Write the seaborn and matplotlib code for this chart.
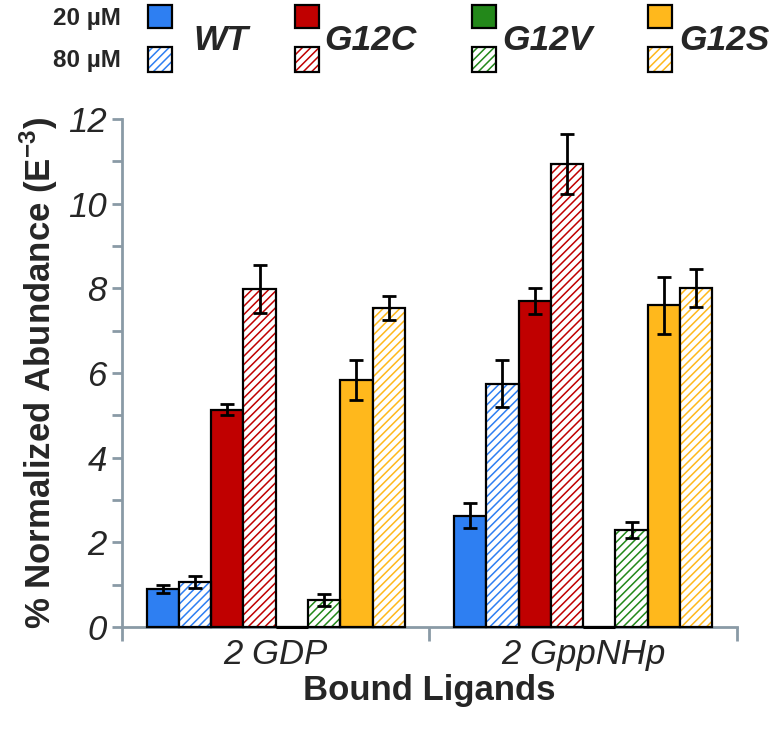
import numpy as np
import pandas as pd
import matplotlib
matplotlib.use("Agg")
import matplotlib.pyplot as plt
from matplotlib import font_manager as fm
from matplotlib.patches import Rectangle
from matplotlib.ticker import MultipleLocator, FixedLocator
import seaborn as sns

# data
ligands = ["2 GDP", "2 GppNHp"]
variants = ["WT", "G12C", "G12V", "G12S"]
concs = ["20 µM", "80 µM"]

wt_20 = [0.90, 2.63]
wt_20_err = [0.10, 0.29]
wt_80 = [1.06, 5.75]
wt_80_err = [0.15, 0.55]
g12c_20 = [5.13, 7.70]
g12c_20_err = [0.13, 0.30]
g12c_80 = [7.98, 10.95]
g12c_80_err = [0.57, 0.71]
g12v_20 = [0.0, 0.0]
g12v_20_err = [0.0, 0.0]
g12v_80 = [0.63, 2.29]
g12v_80_err = [0.14, 0.18]
g12s_20 = [5.83, 7.60]
g12s_20_err = [0.47, 0.67]
g12s_80 = [7.53, 8.00]
g12s_80_err = [0.28, 0.45]

variant_colors = ["#2e7ff2", "#c00000", "#23881a", "#ffb81c"]

vals = {"WT": (wt_20, wt_80), "G12C": (g12c_20, g12c_80),
        "G12V": (g12v_20, g12v_80), "G12S": (g12s_20, g12s_80)}
errs = {"WT": (wt_20_err, wt_80_err), "G12C": (g12c_20_err, g12c_80_err),
        "G12V": (g12v_20_err, g12v_80_err), "G12S": (g12s_20_err, g12s_80_err)}

rows = []
for v in variants:
    for ci, c in enumerate(concs):
        for li, lig in enumerate(ligands):
            rows.append({"ligand": lig, "group": v + " " + c,
                         "abundance": vals[v][ci][li], "err": errs[v][ci][li]})
df = pd.DataFrame(rows)

hue_order = [v + " " + c for v in variants for c in concs]
palette = {v + " " + c: col for v, col in zip(variants, variant_colors) for c in concs}


def has_font(name):
    try:
        fm.findfont(name, fallback_to_default=False)
        return True
    except Exception:
        return False


sns.set_style("white")
base = "Liberation Sans" if has_font("Liberation Sans") else "DejaVu Sans"
narrow = "Liberation Sans Narrow" if has_font("Liberation Sans Narrow") else base
plt.rcParams["font.family"] = [base, "DejaVu Sans"]
plt.rcParams["mathtext.fontset"] = "custom"
plt.rcParams["mathtext.rm"] = base
plt.rcParams["mathtext.bf"] = base + ":bold"
plt.rcParams["hatch.linewidth"] = 1.1

fig = plt.figure(figsize=(7.74, 7.31), dpi=100)
ax = fig.add_axes([0.1576, 0.1423, 0.7944, 0.6947])

sns.barplot(data=df, x="ligand", y="abundance", hue="group", hue_order=hue_order,
            order=ligands, palette=palette, width=0.84, errorbar=None,
            saturation=1, edgecolor="black", linewidth=1.6, legend=False, ax=ax)

ex, ey, ee = [], [], []
for cont, name in zip(ax.containers, hue_order):
    col = palette[name]
    for bar, lig in zip(cont, ligands):
        bar.set_zorder(3)
        bar.set_clip_on(False)
        if bar.get_height() == 0:
            # flat outline for empty bars, as in the original
            x0 = bar.get_x()
            ax.plot([x0, x0 + bar.get_width()], [0, 0], color="black", lw=2.2,
                    zorder=3.2, clip_on=False, solid_capstyle="butt")
        if name.endswith("80 µM"):
            bar.set_facecolor("white")
            bar.set_edgecolor(col)
            bar.set_hatch("////")
            bar.set_linewidth(0)
            ax.add_patch(Rectangle(bar.get_xy(), bar.get_width(), bar.get_height(),
                                   fill=False, edgecolor="black", lw=1.6,
                                   zorder=3.1, clip_on=False))
        e = df.loc[(df.ligand == lig) & (df.group == name), "err"].iloc[0]
        if e > 0:
            ex.append(bar.get_x() + bar.get_width() / 2)
            ey.append(bar.get_height())
            ee.append(e)

ax.errorbar(ex, ey, yerr=ee, fmt="none", ecolor="black", elinewidth=2,
            capsize=5, capthick=2, zorder=5)

spine_col = "#8a9aa6"
ax.set_xlim(-0.5, 1.5)
ax.set_ylim(0, 12)
ax.yaxis.set_major_locator(MultipleLocator(2))
ax.yaxis.set_minor_locator(MultipleLocator(1))
for s in ["top", "right"]:
    ax.spines[s].set_visible(False)
for s in ["left", "bottom"]:
    ax.spines[s].set_color(spine_col)
    ax.spines[s].set_linewidth(2)
    ax.spines[s].set_zorder(2)

ax.tick_params(axis="y", which="both", direction="out", length=7, width=2,
               color=spine_col, left=True, pad=4)
ax.set_yticks(np.arange(0, 13, 2))
ax.set_yticklabels([str(t) for t in range(0, 13, 2)], fontsize=25,
                   fontstyle="italic", fontfamily=narrow)

ax.set_xticks([0, 1])
ax.set_xticklabels(ligands, fontsize=25, fontstyle="italic")
ax.tick_params(axis="x", which="major", length=0, pad=8)
ax.xaxis.set_minor_locator(FixedLocator([-0.5, 0.5, 1.5]))
ax.tick_params(axis="x", which="minor", direction="out", length=10, width=2,
               color=spine_col, bottom=True)

ax.set_xlabel("Bound Ligands", fontsize=25, fontweight="bold", labelpad=2)
ax.set_ylabel(r"% Normalized Abundance (E$^{\mathbf{-3}}$)", fontsize=25,
              fontweight="bold", labelpad=6)

# legend built by hand: two stacked squares per variant
sq_x = [148, 295, 472, 648]
lab_x = [193, 324, 502, 679]
W, H = 774, 731
for i, v in enumerate(variants):
    col = variant_colors[i]
    fig.patches.append(Rectangle((sq_x[i] / W, 1 - 28 / H), 24 / W, 23 / H,
                                 transform=fig.transFigure, facecolor=col,
                                 edgecolor="black", lw=1.6))
    fig.patches.append(Rectangle((sq_x[i] / W, 1 - 72 / H), 24 / W, 25 / H,
                                 transform=fig.transFigure, facecolor="white",
                                 edgecolor=col, hatch="////", lw=0))
    fig.patches.append(Rectangle((sq_x[i] / W, 1 - 72 / H), 24 / W, 25 / H,
                                 transform=fig.transFigure, fill=False,
                                 edgecolor="black", lw=1.6))
    fig.text(lab_x[i] / W, 1 - 41 / H, v, fontsize=25.5, fontweight="bold",
             fontstyle="italic", va="center", ha="left")

fig.text(121 / W, 1 - 18 / H, concs[0], fontsize=17.5, fontweight="bold",
         ha="right", va="center")
fig.text(121 / W, 1 - 61 / H, concs[1], fontsize=17.5, fontweight="bold",
         ha="right", va="center")

fig.savefig("out.png", dpi=100)
